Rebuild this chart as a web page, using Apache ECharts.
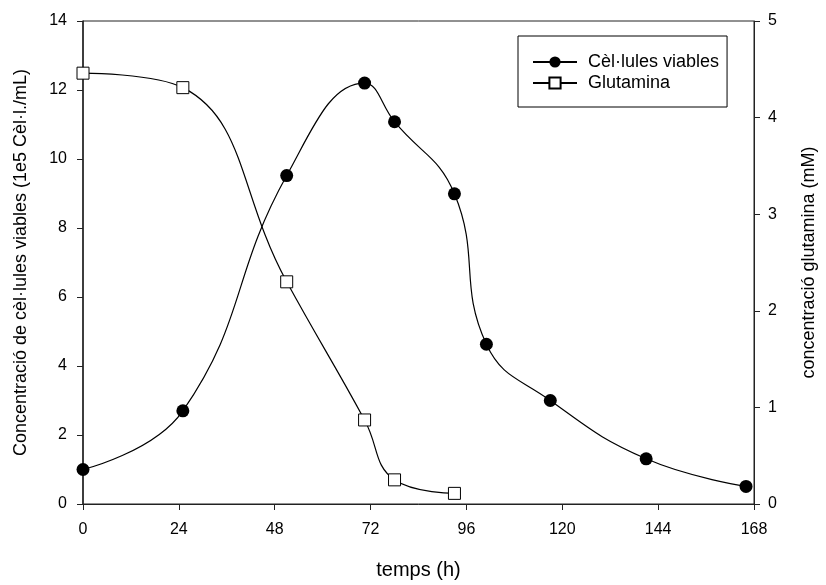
<!DOCTYPE html>
<html>
<head>
<meta charset="utf-8">
<script src="https://cdn.jsdelivr.net/npm/echarts@6/dist/echarts.min.js"></script>
<style>
  html, body { margin: 0; padding: 0; background: #fff; }
  #chart { width: 826px; height: 585px; }
</style>
</head>
<body>
<div id="chart"></div>
<script>
// cèl·lules viables (1e5 cèl·l./mL)
const cellTimes = [0, 25, 51, 70.5, 78, 93, 101, 117, 141, 166];
const cellValues = [1.0, 2.7, 9.52, 12.2, 11.08, 8.99, 4.63, 3.0, 1.31, 0.51];
// glutamina (mM)
const glnTimes = [0, 25, 51, 70.5, 78, 93];
const glnValues = [4.46, 4.31, 2.3, 0.87, 0.25, 0.11];

const xTicks = [0, 24, 48, 72, 96, 120, 144, 168];

const font = 'Liberation Sans, Arial, sans-serif';
const axisColor = '#222';

const toPairs = (xs, ys) => xs.map((x, i) => [x, ys[i]]);

const chart = echarts.init(document.getElementById('chart'));

const option = {
    animation: false,
    textStyle: { fontFamily: font, color: '#000' },
    grid: {
        left: 83, right: 65, top: 21, bottom: 79,
        show: true, borderColor: axisColor, borderWidth: 1
    },
    legend: {
        orient: 'vertical',
        left: 518,
        top: 36,
        padding: [17, 8, 15, 14],
        itemWidth: 44,
        itemHeight: 14,
        itemGap: 3,
        borderColor: '#000',
        borderWidth: 1,
        textStyle: { fontFamily: font, fontSize: 18, lineHeight: 18, color: '#000', padding: [0, 0, 0, 6] },
        data: ['Cèl·lules viables', 'Glutamina']
    },
    xAxis: {
        type: 'value',
        min: 0,
        max: 168,
        interval: 24,
        name: 'temps (h)',
        nameLocation: 'middle',
        nameGap: 56,
        nameTextStyle: { fontSize: 20, color: '#000' },
        axisLine: { onZero: false, lineStyle: { color: axisColor, width: 1 } },
        axisTick: { show: true, inside: false, length: 6, lineStyle: { color: axisColor } },
        axisLabel: { fontSize: 16, color: '#000', margin: 18,
            formatter: (v) => xTicks.includes(v) ? String(v) : '' },
        splitLine: { show: false }
    },
    yAxis: [
        {
            type: 'value',
            min: 0,
            max: 14,
            interval: 2,
            name: 'Concentració de cèl·lules viables (1e5 Cèl·l./mL)',
            nameLocation: 'middle',
            nameGap: 53,
            nameTextStyle: { fontSize: 18, color: '#000' },
            axisLine: { show: true, lineStyle: { color: axisColor, width: 1.5 } },
            axisTick: { show: true, length: 6, lineStyle: { color: axisColor } },
            axisLabel: { fontSize: 16, color: '#000', margin: 16 },
            splitLine: { show: false }
        },
        {
            type: 'value',
            min: 0,
            max: 5,
            interval: 1,
            position: 'right',
            name: 'concentració glutamina (mM)',
            nameLocation: 'middle',
            nameGap: 46,
            nameRotate: 90,
            nameTextStyle: { fontSize: 18, color: '#000' },
            axisLine: { show: true, lineStyle: { color: axisColor, width: 1 } },
            axisTick: { show: true, length: 6, lineStyle: { color: axisColor } },
            axisLabel: { fontSize: 16, color: '#000', margin: 14 },
            splitLine: { show: false }
        }
    ],
    series: [
        {
            name: 'Cèl·lules viables',
            type: 'line',
            yAxisIndex: 0,
            smooth: 0.45,
            symbol: 'circle',
            symbolSize: 13,
            itemStyle: { color: '#000' },
            lineStyle: { color: '#000', width: 1.2 },
            data: toPairs(cellTimes, cellValues)
        },
        {
            name: 'Glutamina',
            type: 'line',
            yAxisIndex: 1,
            smooth: 0.45,
            symbol: 'rect',
            symbolSize: 12,
            itemStyle: { color: '#fff', borderColor: '#000', borderWidth: 1 },
            lineStyle: { color: '#000', width: 1.2 },
            data: toPairs(glnTimes, glnValues)
        }
    ]
};

chart.setOption(option);
</script>
</body>
</html>
